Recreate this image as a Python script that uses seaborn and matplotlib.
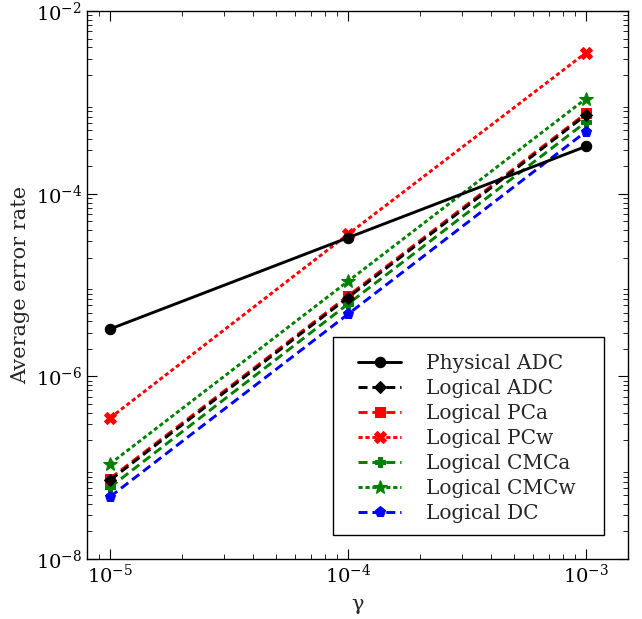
import matplotlib
matplotlib.use("Agg")
import matplotlib.pyplot as plt
from matplotlib.patches import Rectangle
import seaborn as sns
import numpy as np

gamma = [1e-5, 1e-4, 1e-3]
physical_adc = [3.3e-6, 3.3e-5, 3.3e-4]
logical_adc = [7.3e-8, 7.3e-6, 7.3e-4]
logical_pca = [7.6e-8, 7.6e-6, 7.6e-4]
logical_pcw = [3.5e-7, 3.6e-5, 3.5e-3]
logical_cmca = [6.1e-8, 6.2e-6, 6.1e-4]
logical_cmcw = [1.1e-7, 1.1e-5, 1.1e-3]
logical_dc = [4.8e-8, 4.8e-6, 4.8e-4]

labels = ["Physical ADC", "Logical ADC", "Logical PCa", "Logical PCw",
          "Logical CMCa", "Logical CMCw", "Logical DC"]

sns.set_style("ticks")
plt.rcParams.update({
    "font.family": ["DejaVu Serif"],
    "mathtext.fontset": "dejavuserif",
    "lines.scale_dashes": False,
    "xtick.direction": "in",
    "ytick.direction": "in",
    "xtick.top": True,
    "ytick.right": True,
    "xtick.major.size": 7,
    "ytick.major.size": 7,
    "xtick.minor.size": 3.5,
    "ytick.minor.size": 3.5,
    "xtick.minor.visible": True,
    "ytick.minor.visible": True,
    "xtick.color": "black",
    "ytick.color": "black",
    "axes.edgecolor": "black",
    "axes.linewidth": 1.0,
})

fig = plt.figure(figsize=(6.42, 6.19), dpi=100)
ax = fig.add_axes([0.1355, 0.097, 0.8425, 0.885])

dashed = (0, (6.5, 3.5))
dotted = (0, (3, 2))
series = [
    (physical_adc, "black", "o", "-", 7.5, 8),
    (logical_adc, "black", "D", dashed, 6.5, 7),
    (logical_pca, "red", "s", dashed, 6.5, 3),
    (logical_pcw, "red", "X", dotted, 8, 4),
    (logical_cmca, "green", "P", dashed, 7.5, 5),
    (logical_cmcw, "green", "*", dotted, 10, 6),
    (logical_dc, "blue", "p", dashed, 8, 5.5),
]
for (vals, col, mk, ls, ms, z), lab in zip(series, labels):
    sns.lineplot(x=gamma, y=vals, ax=ax, color=col, marker=mk, linestyle=ls,
                 linewidth=2.1, markersize=ms, markeredgecolor=col,
                 label=lab, zorder=z)

ax.set_xscale("log")
ax.set_yscale("log")
ax.set_xlim(8e-6, 1.5e-3)
ax.set_ylim(1e-8, 1e-2)
ax.set_yticks([1e-8, 1e-6, 1e-4, 1e-2])
ax.yaxis.set_minor_locator(matplotlib.ticker.LogLocator(base=10, subs=np.arange(2, 10), numticks=20))
ax.tick_params(labelsize=14)
ax.set_xlabel("γ", fontsize=15, labelpad=6)
ax.set_ylabel("Average error rate", fontsize=15)

# legend frame (wider horizontal padding than vertical, as in the original)
ax.add_patch(Rectangle((0.4547, 0.0438), 0.5009, 0.3612, transform=ax.transAxes,
                       facecolor="white", edgecolor="black", linewidth=1.0,
                       zorder=20))
leg = ax.legend(loc="upper left", bbox_to_anchor=(0.501, 0.374), fontsize=14.5,
                frameon=False, handlelength=2.15, handletextpad=1.25,
                labelspacing=0.3, borderaxespad=0, borderpad=0)
leg.set_zorder(21)

fig.savefig("out.png", dpi=100)
